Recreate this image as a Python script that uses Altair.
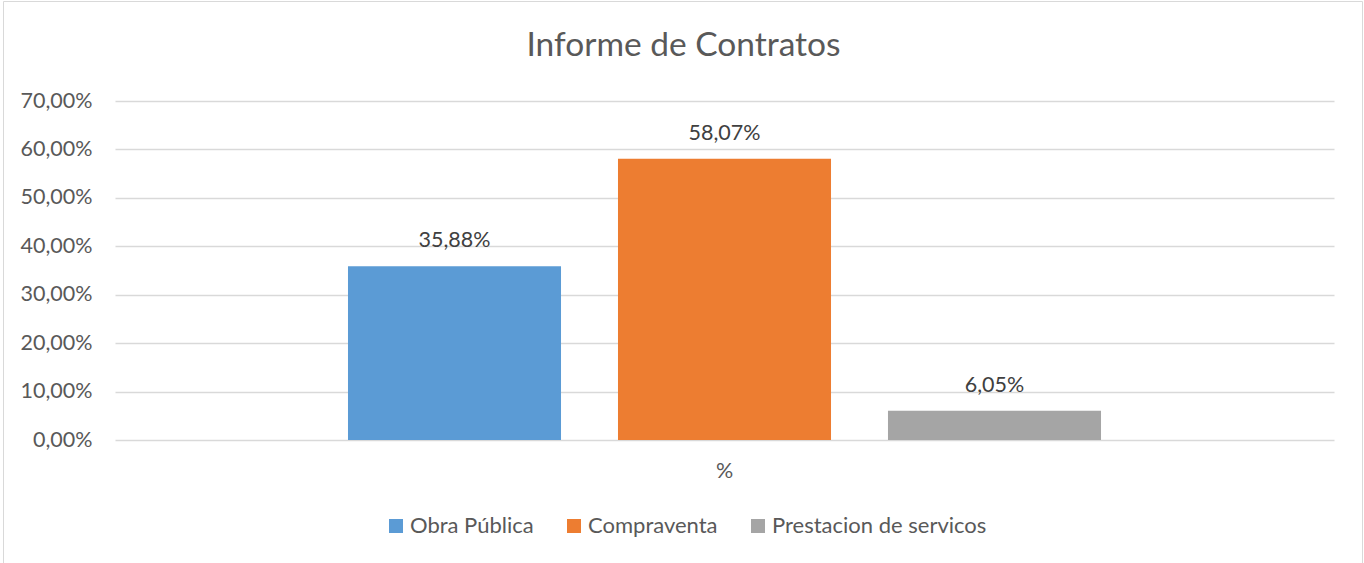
import altair as alt
import pandas as pd

categories = ["Obra Pública", "Compraventa", "Prestacion de servicos"]
values = [0.3588, 0.5807, 0.0605]
colors = ["#5B9BD5", "#ED7D31", "#A5A5A5"]
group_label = "%"
y_ticks = [0, 0.1, 0.2, 0.3, 0.4, 0.5, 0.6, 0.7]

df = pd.DataFrame({"serie": categories, "valor": values, "grupo": [group_label] * len(categories)})

FONT = "Lato"
FS = 21.5
W, H = 1219, 339
TXT = "#595959"

base = alt.Chart(df).encode(
    x=alt.X(
        "grupo:N", title=None,
        scale=alt.Scale(paddingInner=0, paddingOuter=0.3094),
        axis=alt.Axis(domain=False, ticks=False, labelPadding=20, labelFontSize=FS,
                      labelColor=TXT, labelFont=FONT, labelAngle=0, grid=False),
    ),
    xOffset=alt.XOffset("serie:N", sort=categories,
                        scale=alt.Scale(paddingInner=0.211, paddingOuter=0)),
    y=alt.Y(
        "valor:Q", title=None,
        scale=alt.Scale(domain=[0, 0.7], nice=False),
        axis=alt.Axis(values=y_ticks,
                      labelExpr="replace(format(datum.value, '.2%'), '.', ',')",
                      domain=False, ticks=False, gridColor="#D9D9D9", gridWidth=1.5,
                      labelPadding=23, labelFontSize=FS, labelColor=TXT, labelFont=FONT),
    ),
)

bars = base.mark_bar().encode(
    color=alt.Color(
        "serie:N", sort=categories,
        scale=alt.Scale(domain=categories, range=colors),
        legend=alt.Legend(
            title=None, orient="none", legendX=270, legendY=414, direction="horizontal",
            symbolType="square", symbolSize=196, symbolStrokeWidth=0,
            labelFontSize=22, labelColor=TXT, labelFont=FONT, labelLimit=0,
            columnPadding=29, labelOffset=3, padding=0,
        ),
    )
)

labels = base.transform_calculate(
    etiqueta="replace(format(datum.valor, '.2%'), '.', ',')"
).mark_text(baseline="middle", dy=-25, fontSize=FS, color="#404040", font=FONT).encode(
    text="etiqueta:N"
)

frame = alt.Chart(pd.DataFrame({"k": [0]})).mark_rect(
    fillOpacity=0, stroke="#D9D9D9", strokeWidth=1
).encode(
    x=alt.value(-111.5), x2=alt.value(1247.5), y=alt.value(-99.5), y2=alt.value(470)
)

chart = alt.layer(frame, bars, labels).properties(
    width=W, height=H,
    title=alt.TitleParams("Informe de Contratos", fontSize=33.5, font=FONT, color=TXT,
                          fontWeight="normal", anchor="middle", dx=-41, offset=-62),
    autosize=alt.AutoSizeParams(type="none"),
    padding={"left": 115, "top": 101, "right": 30, "bottom": 123},
    background="white",
).configure_view(stroke=None)

chart.save("out.html", embed_options={"renderer": "svg", "actions": False})
